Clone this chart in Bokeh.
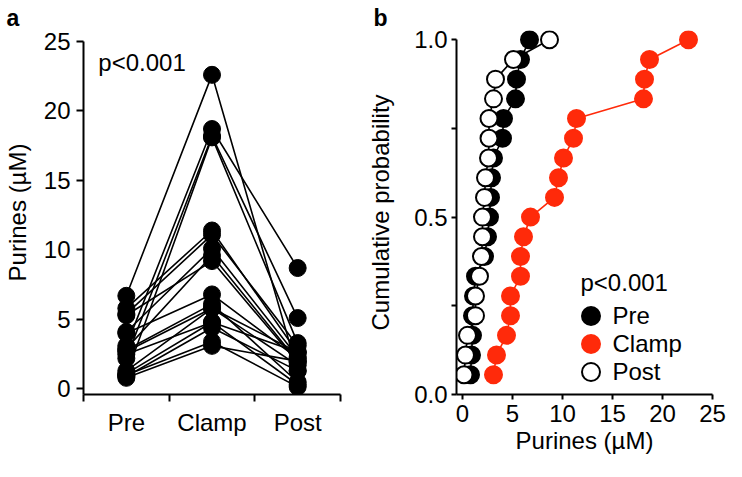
import numpy as np
from bokeh.plotting import figure
from bokeh.layouts import row
from bokeh.models import (Range1d, FixedTicker, PrintfTickFormatter, Label,
                          Legend, LegendItem, Title)
from bokeh.embed import file_html
from bokeh.resources import INLINE

# ---------------- data ----------------
categories = ["Pre", "Clamp", "Post"]
pre = [6.7, 3.1, 2.2, 1.0, 5.8, 5.4, 4.1, 2.9, 5.3, 4.0, 2.8, 2.7, 1.3, 2.5, 1.1, 0.9, 1.0, 0.8]
clamp = [22.6, 18.7, 18.2, 18.1, 11.4, 11.1, 10.1, 9.6, 9.2, 6.8, 6.1, 5.8, 5.8, 4.8, 4.8, 4.4, 3.4, 3.1]
post = [1.3, 8.7, 5.1, 3.3, 2.6, 3.1, 2.3, 2.0, 1.9, 2.2, 0.5, 2.65, 1.7, 0.3, 2.65, 1.3, 0.15, 2.0]
y_ticks_a = [0, 5, 10, 15, 20, 25]
x_ticks_b = [0, 5, 10, 15, 20, 25]
y_ticks_b = [0.0, 0.5, 1.0]
y_minor_b = [0.25, 0.75]
p_text = "p<0.001"
y_label_a = "Purines (µM)"
x_label_b = "Purines (µM)"
y_label_b = "Cumulative probability"

FONT = "Liberation Sans"
FS = "24px"
RED = "#ff2a0a"
H = 461
TOP, BOTTOM = 30, 67

def style_axis(ax):
    ax.axis_line_width = 2
    ax.axis_line_color = "black"
    ax.major_tick_line_width = 2
    ax.minor_tick_line_width = 2
    ax.major_tick_line_color = "black"
    ax.major_tick_in = 0
    ax.minor_tick_in = 0
    ax.major_label_text_font = FONT
    ax.major_label_text_font_size = FS
    ax.major_label_text_color = "black"
    ax.axis_label_text_font = FONT
    ax.axis_label_text_font_size = FS
    ax.axis_label_text_font_style = "normal"
    ax.axis_label_text_color = "black"

def panel_title(p, txt, offset):
    p.add_layout(Title(text=txt, align="left", offset=offset, standoff=0,
                       text_font=FONT, text_font_size="23px", text_font_style="bold",
                       text_color="black"), "above")

# ---------------- panel a ----------------
pa = figure(width=345, height=H, output_backend="svg", toolbar_location=None,
            x_range=Range1d(0, 3), y_range=Range1d(-0.4, 25.79),
            min_border_left=80, min_border_right=5, min_border_top=TOP,
            min_border_bottom=BOTTOM)
pa.grid.visible = False
pa.outline_line_color = None

cat_x = [i + 0.5 for i in range(len(categories))]
n = len(pre)
xs = [cat_x for _ in range(n)]
ys = [[pre[i], clamp[i], post[i]] for i in range(n)]
pa.multi_line(xs, ys, line_color="black", line_width=1.6)
all_x = [cat_x[0]] * n + [cat_x[1]] * n + [cat_x[2]] * n
all_y = pre + clamp + post
pa.scatter(all_x, all_y, size=17, fill_color="black", line_color="black")

xa = pa.xaxis[0]
style_axis(xa)
xa.ticker = FixedTicker(ticks=cat_x, minor_ticks=list(range(len(categories) + 1)))
xa.major_label_overrides = {cx: c for cx, c in zip(cat_x, categories)}
xa.major_tick_out = 0
xa.minor_tick_out = 7
xa.minor_tick_line_color = "black"
xa.major_label_standoff = 7

ya = pa.yaxis[0]
style_axis(ya)
ya.bounds = (-0.4, 25)
ya.ticker = FixedTicker(ticks=y_ticks_a)
ya.major_tick_out = 7
ya.minor_tick_line_color = None
ya.major_label_standoff = 6
ya.axis_label = y_label_a
ya.axis_label_standoff = 10

pa.add_layout(Label(x=0.173, y=23.47, text=p_text, text_font=FONT, text_font_size=FS,
                    text_baseline="alphabetic", text_color="black"))
panel_title(pa, "a", -77)

# ---------------- panel b ----------------
pb = figure(width=381, height=H, output_backend="svg", toolbar_location=None,
            x_range=Range1d(-0.6, 25), y_range=Range1d(0, 1.026),
            min_border_left=111, min_border_right=14, min_border_top=TOP,
            min_border_bottom=BOTTOM)
pb.grid.visible = False
pb.outline_line_color = None

series = [("Pre", pre, "black", "black"),
          ("Clamp", clamp, RED, RED),
          ("Post", post, "white", "black")]
renderers = []
for name, vals, fill, line in series:
    sv = np.sort(np.array(vals))
    cum = np.arange(1, len(sv) + 1) / len(sv)
    pb.line(sv, cum, line_color=line, line_width=1.6)
    r = pb.scatter(sv, cum, size=17, fill_color=fill, line_color=line, line_width=2)
    renderers.append((name, r))

xb = pb.xaxis[0]
style_axis(xb)
xb.bounds = (-0.6, 25)
xb.ticker = FixedTicker(ticks=x_ticks_b)
xb.major_tick_out = 5
xb.minor_tick_line_color = None
xb.major_label_standoff = 5
xb.axis_label = x_label_b
xb.axis_label_standoff = 2

yb = pb.yaxis[0]
style_axis(yb)
yb.bounds = (0, 1)
yb.ticker = FixedTicker(ticks=y_ticks_b, minor_ticks=y_minor_b)
yb.formatter = PrintfTickFormatter(format="%.1f")
yb.major_tick_out = 5
yb.minor_tick_out = 5
yb.minor_tick_line_color = "black"
yb.major_label_standoff = 4
yb.axis_label = y_label_b
yb.axis_label_standoff = 17

pb.add_layout(Label(x=11.8, y=0.316, text=p_text, text_font=FONT, text_font_size=FS,
                    text_baseline="alphabetic", text_color="black"))
panel_title(pb, "b", -83)

# one legend per entry so the key markers stay large while rows stay close
legend_bottoms = [56, 28, 0]
for (name, r), yb_loc in zip(renderers, legend_bottoms):
    pb.add_layout(Legend(items=[LegendItem(label=name, renderers=[r])],
                         location=(111.5, yb_loc), glyph_width=45, glyph_height=45,
                         label_standoff=-2, padding=0, margin=0,
                         border_line_color=None, background_fill_alpha=0,
                         label_text_font=FONT, label_text_font_size=FS,
                         label_text_color="black", label_height=45))

layout = row(pa, pb)
open("out.html", "w").write(file_html(layout, INLINE))
